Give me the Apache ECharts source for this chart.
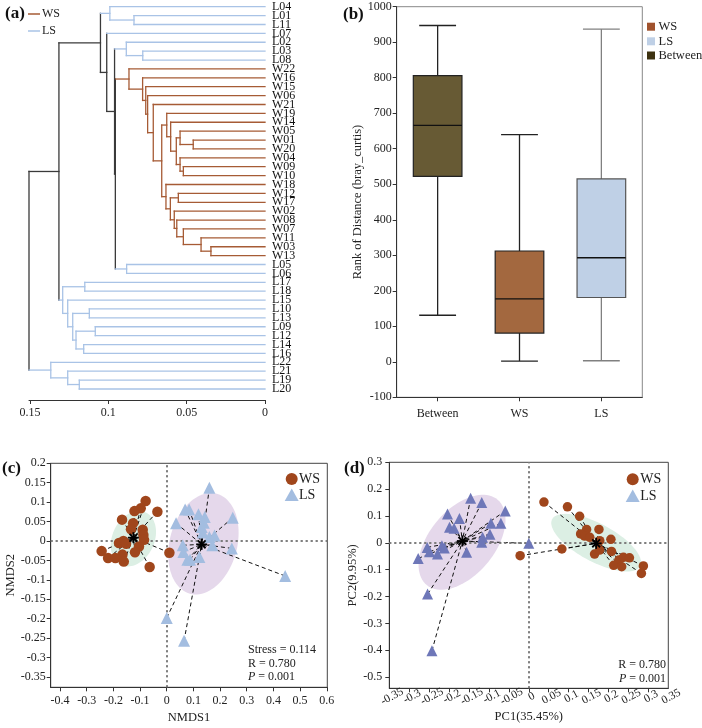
<!DOCTYPE html>
<html><head><meta charset="utf-8">
<script src="https://cdn.jsdelivr.net/npm/echarts@6/dist/echarts.min.js"></script>
<style>html,body{margin:0;padding:0;background:#fff}#main{width:702px;height:728px}</style>
</head><body><div id="main"></div>
<script>
// ---------- (a) dendrogram data ----------
const leaves = ['L04','L01','L11','L07','L02','L03','L08','W22','W16','W15','W06','W21','W19','W14','W05','W01','W20','W04','W09','W10','W18','W12','W17','W02','W08','W07','W11','W03','W13','L05','L06','L17','L18','L15','L10','L13','L09','L12','L14','L16','L22','L21','L19','L20'];
// [node, left child, right child, merge height]
const merges = [
  ['n1','L01','L11',0.0836], ['n2','L04','n1',0.0990],
  ['n3','L03','L08',0.0780], ['n4','L02','n3',0.0885],
  ['w1','W01','W20',0.0458], ['w2','W05','w1',0.0542],
  ['w3','W09','W10',0.0521], ['w4','W04','w3',0.0542],
  ['w5','w2','w4',0.0566], ['w6','W14','w5',0.0602],
  ['w7','W19','w6',0.0627], ['w8','W12','W17',0.0553],
  ['w9','W03','W13',0.0345], ['w10','W11','w9',0.0408],
  ['w11','W07','w10',0.0521], ['w12','W08','w11',0.0563],
  ['w13','W02','w12',0.0579], ['w14','w8','w13',0.0604],
  ['w15','W18','w14',0.0632], ['w16','w7','w15',0.0659],
  ['w17','W21','w16',0.0713], ['w18','W06','w17',0.0749],
  ['w19','W15','w18',0.0761], ['w20','W16','w19',0.0781],
  ['w21','W22','w20',0.0868], ['n5','L05','L06',0.0883],
  ['n6','w21','n5',0.0955], ['n7','n4','n6',0.0960],
  ['n8','L07','n7',0.1010], ['n9','n2','n8',0.1050],
  ['g1','L17','L18',0.1150], ['g2','L10','L13',0.1121],
  ['g3','L09','L12',0.1083], ['g4','L14','L16',0.1157],
  ['g5','g3','g4',0.1206], ['g6','g2','g5',0.1227],
  ['g7','L15','g6',0.1259], ['g8','g1','g7',0.1291],
  ['n10','n9','g8',0.1315],
  ['h1','L19','L20',0.1185], ['h2','L21','h1',0.1259], ['h3','L22','h2',0.1367],
  ['root','n10','h3',0.1506]
];
const dendroTicks = [0, 0.05, 0.1, 0.15];

// ---------- (b) boxplot data ----------
const boxCategories = ['Between','WS','LS'];
const boxMin    = [131, 2, 3];
const boxQ1     = [522, 81, 181];
const boxMedian = [666, 177, 293];
const boxQ3     = [806, 312, 515];
const boxMax    = [947, 640, 937];

// ---------- (c) NMDS data ----------
const nmdsWS_x = [-0.079,-0.035,-0.0975,-0.121,-0.1675,-0.126,-0.134,-0.09,-0.0875,-0.085,-0.1625,-0.179,-0.1525,-0.104,-0.244,-0.166,-0.119,-0.22,-0.1925,-0.161,-0.064,0.01];
const nmdsWS_y = [0.103,0.0755,0.084,0.077,0.055,0.046,0.03,0.029,0.0155,0.003,0.0,-0.005,-0.007,-0.014,-0.026,-0.035,-0.029,-0.044,-0.044,-0.053,-0.067,-0.03];
const nmdsLS_x = [0.16,0.069,0.084,0.119,0.1425,0.2475,0.035,0.139,0.135,0.16,0.179,0.06,0.171,0.244,0.0625,0.1225,0.0775,0.0875,0.444,0.0,0.065,0.131];
const nmdsLS_y = [0.137,0.081,0.081,0.069,0.062,0.06,0.046,0.047,0.022,0.01,0.0145,-0.011,-0.011,-0.019,-0.028,-0.041,-0.048,-0.048,-0.09,-0.198,-0.257,0.036];
const nmdsCentroidWS = [-0.125, 0.0086];
const nmdsCentroidLS = [0.131, -0.0086];
// ellipse: [cx, cy, major-x, major-y, minor-x, minor-y]
const nmdsEllipseWS = [-0.125, 0.006, 0.046, 0.0676, 0.0713, -0.0229];
const nmdsEllipseLS = [0.1375, -0.007, 0.0502, 0.1286, 0.1221, -0.0225];
const nmdsXTicks = [-0.4,-0.3,-0.2,-0.1,0,0.1,0.2,0.3,0.4,0.5,0.6];
const nmdsYTicks = [0.2,0.15,0.1,0.05,0,-0.05,-0.1,-0.15,-0.2,-0.25,-0.3,-0.35];

// ---------- (d) PCoA data ----------
const pcoaWS_x = [0.038,0.097,0.1275,0.145,0.13,0.14,0.153,0.176,0.206,0.178,0.083,-0.0217,0.165,0.2075,0.226,0.2375,0.2525,0.213,0.233,0.2875,0.2825,0.1775];
const pcoaWS_y = [0.152,0.134,0.099,0.05,0.033,0.025,0.0205,0.05,0.013,0.008,-0.023,-0.048,-0.042,-0.032,-0.064,-0.054,-0.056,-0.084,-0.089,-0.086,-0.114,-0.027];
const pcoaLS_x = [-0.146,-0.118,-0.059,-0.204,-0.174,-0.07,-0.095,-0.199,-0.1875,-0.0975,-0.116,-0.118,0.0,-0.255,-0.218,-0.212,-0.249,-0.229,-0.156,-0.2775,-0.254,-0.243];
const pcoaLS_y = [0.166,0.15,0.119,0.107,0.091,0.073,0.073,0.058,0.054,0.032,0.0205,0.002,-0.002,-0.017,-0.011,-0.019,-0.033,-0.042,-0.035,-0.058,-0.191,-0.402];
const pcoaCentroidWS = [0.169, -0.002];
const pcoaCentroidLS = [-0.1667, 0.0068];
const pcoaEllipseWS = [0.169, 0.0006, 0.1104, -0.0874, 0.0223, 0.0625];
const pcoaEllipseLS = [-0.1675, 0.002, 0.0892, 0.1585, 0.0628, -0.0786];
const pcoaXTicks = [-0.35,-0.3,-0.25,-0.2,-0.15,-0.1,-0.05,0,0.05,0.1,0.15,0.2,0.25,0.3,0.35];
const pcoaYTicks = [0.3,0.2,0.1,0,-0.1,-0.2,-0.3,-0.4,-0.5];

// ---------- styles ----------
const FONT = '"Liberation Serif", "Times New Roman", serif';
const C_W = '#a65b35', C_L = '#a9c3e6', C_M = '#3a3a3a';
const dendroColors = [C_W, C_L, C_M];
const boxFill = ['#675a34', '#a3683f', '#bfd0e6'];
const boxStroke = ['#222', '#222', '#555'];
const whiskerStroke = ['#222', '#222', '#808080'];
const ptBrown = '#a0461c', triLight = '#a3bde0', triDark = '#6e77b8';
const ellGreen = '#dcefe4', ellPurple = '#e5d8eb';

// ---------- build dendrogram segments ----------
const yPos = {}, hgt = {}, cls = {};
leaves.forEach((n, i) => { yPos[n] = i; hgt[n] = 0; cls[n] = n[0] === 'W' ? 0 : 1; });
const segs = [];
merges.forEach(([name, a, b, h]) => {
  yPos[name] = (yPos[a] + yPos[b]) / 2; hgt[name] = h;
  cls[name] = cls[a] === cls[b] ? cls[a] : 2;
  segs.push([h, yPos[a], h, yPos[b], cls[name]]);
  segs.push([h, yPos[a], hgt[a], yPos[a], cls[a]]);
  segs.push([h, yPos[b], hgt[b], yPos[b], cls[b]]);
});

const zip = (xs, ys) => xs.map((x, i) => [x, ys[i]]);
const fmt = v => String(+(+v).toFixed(4));
// label positions: real labels nudged inward, with blank sentinels at both ends
// (sentinels keep ECharts' min/max overlap rule from hiding neighbouring labels)
const EPS = 1e-5;
function withSentinels(vals) {
  const lo = vals[0], hi = vals[vals.length - 1];
  const inner = vals.map((v, i) => i === 0 ? v + (hi > lo ? EPS : -EPS) : i === vals.length - 1 ? v - (hi > lo ? EPS : -EPS) : v);
  return [lo].concat(inner, [hi]);
}
const leafIdx = leaves.map((_, i) => i);
const leafLabelVals = withSentinels(leafIdx);
const pcoaXLabelVals = withSentinels(pcoaXTicks);

function ellipseSeries(gi, params, color) {
  return {
    type: 'custom', xAxisIndex: gi, yAxisIndex: gi, z: 1, silent: true,
    data: [params],
    renderItem: (p, api) => {
      const pts = [];
      for (let k = 0; k < 90; k++) {
        const t = k / 90 * Math.PI * 2;
        const c = Math.cos(t), s = Math.sin(t);
        pts.push(api.coord([api.value(0) + c * api.value(2) + s * api.value(4),
                            api.value(1) + c * api.value(3) + s * api.value(5)]));
      }
      return { type: 'polygon', shape: { points: pts }, style: { fill: color } };
    },
    markLine: {
      silent: true, symbol: 'none', animation: false,
      label: { show: false },
      lineStyle: { type: [2, 3], color: '#777', width: 1.5 },
      data: [{ xAxis: 0 }, { yAxis: 0 }]
    }
  };
}
function spokeSeries(gi, pts, centroid) {
  return {
    type: 'custom', xAxisIndex: gi, yAxisIndex: gi, z: 3, silent: true,
    data: pts,
    renderItem: (p, api) => {
      const a = api.coord([api.value(0), api.value(1)]);
      const b = api.coord(centroid);
      return { type: 'line', shape: { x1: a[0], y1: a[1], x2: b[0], y2: b[1] },
        style: { stroke: '#111', lineWidth: 1, lineDash: [4, 3] } };
    }
  };
}
function centroidSeries(gi, centroid) {
  return {
    type: 'custom', xAxisIndex: gi, yAxisIndex: gi, z: 6, silent: true,
    data: [centroid],
    renderItem: (p, api) => {
      const c = api.coord([api.value(0), api.value(1)]);
      const r = 5.5, ch = [];
      for (let k = 0; k < 4; k++) {
        const t = k * Math.PI / 4;
        ch.push({ type: 'line', shape: { x1: c[0] - r * Math.cos(t), y1: c[1] - r * Math.sin(t),
          x2: c[0] + r * Math.cos(t), y2: c[1] + r * Math.sin(t) }, style: { stroke: '#000', lineWidth: 1.8 } });
      }
      return { type: 'group', children: ch };
    }
  };
}
function scatter(gi, pts, symbol, size, color) {
  return { type: 'scatter', xAxisIndex: gi, yAxisIndex: gi, z: 5, symbol, symbolSize: size,
    data: pts, itemStyle: { color, opacity: 1 } };
}

const axisLineStyle = { show: true, onZero: false, lineStyle: { color: '#333', width: 1 } };
const axisCommon = {
  axisLine: axisLineStyle,
  splitLine: { show: false },
  nameTextStyle: { fontFamily: FONT, fontSize: 12.5, color: '#222' }
};
const lbl = (extra) => Object.assign({ fontFamily: FONT, fontSize: 12, color: '#222',
  showMinLabel: true, showMaxLabel: true, hideOverlap: false }, extra);

const chart = echarts.init(document.getElementById('main'), null, { renderer: 'canvas' });
const option = {
  animation: false,
  backgroundColor: '#fff',
  textStyle: { fontFamily: FONT },
  grid: [
    { left: 29, top: 6.7, width: 236, height: 393.3, outerBoundsMode: 'none', containLabel: false },
    { left: 396.7, top: 6.7, width: 245.6, height: 390.6, show: true, borderColor: '#888', borderWidth: 1, outerBoundsMode: 'none', containLabel: false },
    { left: 50.7, top: 463.3, width: 276.6, height: 224, show: true, borderColor: '#444', borderWidth: 1, outerBoundsMode: 'none', containLabel: false },
    { left: 389.3, top: 462.3, width: 279, height: 226, show: true, borderColor: '#444', borderWidth: 1, outerBoundsMode: 'none', containLabel: false }
  ],
  xAxis: [
    Object.assign({}, axisCommon, { gridIndex: 0, type: 'value', inverse: true, min: 0, max: 0.1506, position: 'bottom',
      axisTick: { show: true, length: 4, customValues: dendroTicks, lineStyle: { color: '#333' } },
      axisLabel: lbl({ customValues: dendroTicks, margin: 7, formatter: fmt }) }),
    Object.assign({}, axisCommon, { gridIndex: 1, type: 'category', data: boxCategories, boundaryGap: true,
      axisTick: { show: true, length: 4, alignWithLabel: true, lineStyle: { color: '#333' } },
      axisLabel: lbl({ margin: 11 }) }),
    Object.assign({}, axisCommon, { gridIndex: 2, type: 'value', min: -0.435, max: 0.602,
      axisTick: { show: true, length: 4, customValues: nmdsXTicks, lineStyle: { color: '#333' } },
      axisLabel: lbl({ customValues: nmdsXTicks, margin: 8, formatter: fmt }),
      name: 'NMDS1', nameLocation: 'middle', nameGap: 24 }),
    Object.assign({}, axisCommon, { gridIndex: 3, type: 'value', min: -0.35, max: 0.35,
      axisTick: { show: true, length: 4, customValues: pcoaXTicks, lineStyle: { color: '#333' } },
      axisLabel: lbl({ customValues: pcoaXLabelVals, showMinLabel: false, showMaxLabel: false,
        margin: 3, rotate: 28, fontSize: 11.5, align: 'center', verticalAlign: 'top',
        formatter: v => (v === pcoaXTicks[0] || v === pcoaXTicks[pcoaXTicks.length - 1]) ? '' : fmt(v) }),
      name: 'PC1(35.45%)', nameLocation: 'middle', nameGap: 20 })
  ],
  yAxis: [
    { gridIndex: 0, type: 'value', inverse: true, min: 0, max: 44.24, position: 'right',
      axisLine: { show: false, onZero: false }, axisTick: { show: false }, splitLine: { show: false },
      axisLabel: lbl({ customValues: leafLabelVals, showMinLabel: false, showMaxLabel: false,
        margin: 7, fontSize: 12, color: '#111',
        formatter: v => (v === leafIdx[0] || v === leafIdx[leafIdx.length - 1]) ? '' : (leaves[Math.round(v)] || '') }) },
    Object.assign({}, axisCommon, { gridIndex: 1, type: 'value', min: -100, max: 1000, interval: 100,
      axisTick: { show: true, length: 4, lineStyle: { color: '#333' } },
      axisLabel: lbl({ margin: 5, formatter: v => String(v) }),
      name: 'Rank of Distance (bray_curtis)', nameLocation: 'middle', nameGap: 28 }),
    Object.assign({}, axisCommon, { gridIndex: 2, type: 'value', min: -0.3765, max: 0.2,
      axisTick: { show: true, length: 4, customValues: nmdsYTicks, lineStyle: { color: '#333' } },
      axisLabel: lbl({ customValues: nmdsYTicks, margin: 5, formatter: fmt }),
      name: 'NMDS2', nameLocation: 'middle', nameGap: 33 }),
    Object.assign({}, axisCommon, { gridIndex: 3, type: 'value', min: -0.542, max: 0.3,
      axisTick: { show: true, length: 4, customValues: pcoaYTicks, lineStyle: { color: '#333' } },
      axisLabel: lbl({ customValues: pcoaYTicks, margin: 7, formatter: fmt }),
      name: 'PC2(9.95%)', nameLocation: 'middle', nameGap: 25 })
  ],
  series: [
    // (a) dendrogram
    { type: 'custom', xAxisIndex: 0, yAxisIndex: 0, silent: true, clip: false,
      encode: { x: [0, 2], y: [1, 3] },
      data: segs,
      renderItem: (p, api) => {
        const a = api.coord([api.value(0), api.value(1)]);
        const b = api.coord([api.value(2), api.value(3)]);
        return { type: 'line', shape: { x1: a[0], y1: a[1], x2: b[0], y2: b[1] },
          style: { stroke: dendroColors[api.value(4)], lineWidth: 1.3, lineCap: 'square' } };
      } },
    // (b) boxplot
    { type: 'custom', xAxisIndex: 1, yAxisIndex: 1, silent: true,
      encode: { x: 0, y: [1, 2, 3, 4, 5] },
      data: boxCategories.map((c, i) => [i, boxMin[i], boxQ1[i], boxMedian[i], boxQ3[i], boxMax[i]]),
      renderItem: (p, api) => {
        const i = api.value(0);
        const bw = api.size([1, 0])[0];
        const cx = api.coord([i, 0])[0];
        const y = k => api.coord([i, api.value(k)])[1];
        const hb = bw * 0.297, hc = bw * 0.225;
        const ws = { stroke: whiskerStroke[i], lineWidth: 1.3 };
        return { type: 'group', children: [
          { type: 'line', shape: { x1: cx, y1: y(4), x2: cx, y2: y(5) }, style: ws },
          { type: 'line', shape: { x1: cx - hc, y1: y(5), x2: cx + hc, y2: y(5) }, style: ws },
          { type: 'line', shape: { x1: cx, y1: y(2), x2: cx, y2: y(1) }, style: ws },
          { type: 'line', shape: { x1: cx - hc, y1: y(1), x2: cx + hc, y2: y(1) }, style: ws },
          { type: 'rect', shape: { x: cx - hb, y: y(4), width: 2 * hb, height: y(2) - y(4) },
            style: { fill: boxFill[i], stroke: boxStroke[i], lineWidth: 1.2 } },
          { type: 'line', shape: { x1: cx - hb, y1: y(3), x2: cx + hb, y2: y(3) },
            style: { stroke: '#111', lineWidth: 1.3 } }
        ] };
      } },
    // (c) NMDS
    ellipseSeries(2, nmdsEllipseWS, ellGreen),
    ellipseSeries(2, nmdsEllipseLS, ellPurple),
    spokeSeries(2, zip(nmdsWS_x, nmdsWS_y), nmdsCentroidWS),
    spokeSeries(2, zip(nmdsLS_x, nmdsLS_y), nmdsCentroidLS),
    scatter(2, zip(nmdsWS_x, nmdsWS_y), 'circle', 10.5, ptBrown),
    scatter(2, zip(nmdsLS_x, nmdsLS_y), 'triangle', 12, triLight),
    centroidSeries(2, nmdsCentroidWS),
    centroidSeries(2, nmdsCentroidLS),
    // (d) PCoA
    ellipseSeries(3, pcoaEllipseWS, ellGreen),
    ellipseSeries(3, pcoaEllipseLS, ellPurple),
    spokeSeries(3, zip(pcoaWS_x, pcoaWS_y), pcoaCentroidWS),
    spokeSeries(3, zip(pcoaLS_x, pcoaLS_y), pcoaCentroidLS),
    scatter(3, zip(pcoaWS_x, pcoaWS_y), 'circle', 9.5, ptBrown),
    scatter(3, zip(pcoaLS_x, pcoaLS_y), 'triangle', 11, triDark),
    centroidSeries(3, pcoaCentroidWS),
    centroidSeries(3, pcoaCentroidLS)
  ],
  graphic: [
    // panel labels
    { type: 'text', x: 5, y: 14, style: { text: '(a)', font: 'bold 17px ' + FONT, fill: '#111', verticalAlign: 'middle' } },
    { type: 'text', x: 343, y: 15, style: { text: '(b)', font: 'bold 17px ' + FONT, fill: '#111', verticalAlign: 'middle' } },
    { type: 'text', x: 2, y: 469, style: { text: '(c)', font: 'bold 17px ' + FONT, fill: '#111', verticalAlign: 'middle' } },
    { type: 'text', x: 344, y: 469, style: { text: '(d)', font: 'bold 17px ' + FONT, fill: '#111', verticalAlign: 'middle' } },
    // (a) legend
    { type: 'line', shape: { x1: 28, y1: 14, x2: 40, y2: 14 }, style: { stroke: C_W, lineWidth: 1.5 } },
    { type: 'text', x: 42, y: 14, style: { text: 'WS', font: '12px ' + FONT, fill: '#222', verticalAlign: 'middle' } },
    { type: 'line', shape: { x1: 28, y1: 31, x2: 40, y2: 31 }, style: { stroke: C_L, lineWidth: 1.5 } },
    { type: 'text', x: 42, y: 31, style: { text: 'LS', font: '12px ' + FONT, fill: '#222', verticalAlign: 'middle' } },
    // (b) legend
    { type: 'rect', shape: { x: 647, y: 22.7, width: 8, height: 8 }, style: { fill: '#a0522d' } },
    { type: 'text', x: 658.5, y: 26.7, style: { text: 'WS', font: '12.5px ' + FONT, fill: '#222', verticalAlign: 'middle' } },
    { type: 'rect', shape: { x: 647, y: 37.3, width: 8, height: 8 }, style: { fill: '#bfd0e6' } },
    { type: 'text', x: 658.5, y: 41.3, style: { text: 'LS', font: '12.5px ' + FONT, fill: '#222', verticalAlign: 'middle' } },
    { type: 'rect', shape: { x: 647, y: 51.5, width: 8, height: 8 }, style: { fill: '#3d3210' } },
    { type: 'text', x: 658.5, y: 55.5, style: { text: 'Between', font: '12.5px ' + FONT, fill: '#222', verticalAlign: 'middle' } },
    // (c) legend
    { type: 'circle', shape: { cx: 291.7, cy: 479, r: 6 }, style: { fill: ptBrown } },
    { type: 'text', x: 299, y: 479.5, style: { text: 'WS', font: '14px ' + FONT, fill: '#222', verticalAlign: 'middle' } },
    { type: 'polygon', shape: { points: [[291.7, 488.5], [298.7, 501], [284.7, 501]] }, style: { fill: triLight } },
    { type: 'text', x: 299, y: 495.5, style: { text: 'LS', font: '14px ' + FONT, fill: '#222', verticalAlign: 'middle' } },
    // (d) legend
    { type: 'circle', shape: { cx: 632.7, cy: 479.3, r: 6 }, style: { fill: ptBrown } },
    { type: 'text', x: 640.3, y: 479.8, style: { text: 'WS', font: '14px ' + FONT, fill: '#222', verticalAlign: 'middle' } },
    { type: 'polygon', shape: { points: [[632.7, 489.5], [639.7, 502], [625.7, 502]] }, style: { fill: triLight } },
    { type: 'text', x: 640.3, y: 496.5, style: { text: 'LS', font: '14px ' + FONT, fill: '#222', verticalAlign: 'middle' } },
    // (c) stats
    { type: 'text', x: 248, y: 650, style: { text: 'Stress = 0.114', font: '12px ' + FONT, fill: '#222', verticalAlign: 'middle' } },
    { type: 'text', x: 248, y: 663.5, style: { text: 'R = 0.780', font: '12px ' + FONT, fill: '#222', verticalAlign: 'middle' } },
    { type: 'text', x: 248, y: 677, style: { text: '{i|P} = 0.001', font: '12px ' + FONT, fill: '#222', verticalAlign: 'middle',
      rich: { i: { fontStyle: 'italic', fontFamily: FONT, fontSize: 12 } } } },
    // (d) stats
    { type: 'text', x: 666, y: 665, style: { text: 'R = 0.780', font: '12px ' + FONT, fill: '#222', align: 'right', verticalAlign: 'middle' } },
    { type: 'text', x: 666, y: 678.5, style: { text: '{i|P} = 0.001', font: '12px ' + FONT, fill: '#222', align: 'right', verticalAlign: 'middle',
      rich: { i: { fontStyle: 'italic', fontFamily: FONT, fontSize: 12 } } } }
  ]
};
chart.setOption(option);
</script></body></html>
